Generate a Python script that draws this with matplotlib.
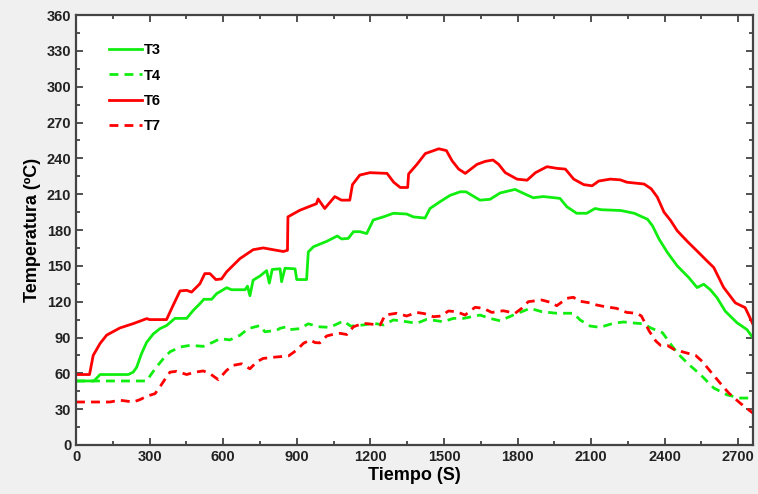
"""
Temperature profiles T3, T4, T6, T7 vs time.
Writes out.png
"""

import matplotlib
matplotlib.use("Agg")
import matplotlib.pyplot as plt
from matplotlib.ticker import MultipleLocator

# ----------------------------------------------------------------
# Data
# ----------------------------------------------------------------
t3_time = [0, 73, 98, 213, 233, 247, 267, 288, 315, 342, 369, 403, 451, 478, 505, 521,
           553, 573, 614, 634, 689, 699, 709, 722, 750, 777, 788, 800, 832, 838, 852,
           893, 900, 940, 947, 968, 1022, 1065, 1083, 1110, 1131, 1158, 1185, 1212,
           1253, 1294, 1348, 1375, 1423, 1443, 1484, 1525, 1566, 1590, 1647, 1688,
           1729, 1790, 1824, 1864, 1905, 1973, 2001, 2041, 2082, 2116, 2141, 2222,
           2276, 2330, 2350, 2377, 2411, 2451, 2499, 2532, 2559, 2586, 2613, 2647,
           2695, 2735, 2760]
t3_temp = [53.6, 53.6, 59, 59, 61, 65, 76.5, 86, 93, 97.4, 100, 106, 106, 112.7, 118.3,
           122, 122, 126.7, 131.7, 130, 130, 133, 125, 138, 141.5, 146, 135.5, 147,
           147.5, 136.7, 148, 147.5, 138.5, 138.5, 161.7, 166, 170.5, 175, 172.5, 173,
           178.6, 178.6, 177, 188.4, 191, 194, 193.4, 191, 190, 198, 203.7, 209, 212,
           212, 205, 205.7, 211, 214, 210.7, 207, 208, 206.5, 199.5, 194, 194, 198,
           197, 196.3, 194, 189, 183.6, 172.4, 161.2, 150, 140, 131.8, 134.6, 130,
           123.4, 112, 102.3, 96.7, 89.7]

t4_time = [0, 288, 308, 328, 356, 383, 424, 464, 519, 560, 587, 627, 668, 702, 750, 770,
           817, 832, 858, 872, 912, 947, 988, 1035, 1090, 1120, 1171, 1212, 1253, 1294,
           1348, 1389, 1430, 1498, 1538, 1579, 1647, 1688, 1729, 1783, 1851, 1899,
           1960, 2028, 2055, 2096, 2136, 2191, 2232, 2286, 2313, 2343, 2391, 2411,
           2451, 2499, 2546, 2600, 2654, 2708, 2760]
t4_temp = [53.6, 53.6, 59.7, 65.3, 72.3, 78, 82, 83.4, 82.6, 86.2, 89, 88, 91.8, 97.4,
           100, 94.8, 96, 97.7, 99, 96.6, 97.4, 101.5, 99, 98.5, 103.8, 99.5, 100.5,
           101.9, 100.5, 104.7, 103.2, 101.9, 105.2, 103.2, 106, 106, 108.8, 106, 104,
           108.8, 114.4, 111.6, 110.3, 110.3, 104.7, 99.6, 98.5, 101.9, 103, 101.9,
           101.5, 98, 94, 88.3, 77, 67.3, 58.9, 47.7, 42, 39.3, 39.3]

t6_time = [0, 55, 70, 98, 125, 179, 233, 288, 300, 369, 396, 424, 451, 471, 505, 525,
           546, 570, 593, 614, 668, 722, 763, 804, 845, 862, 864, 912, 980, 987, 1014,
           1055, 1082, 1116, 1127, 1157, 1198, 1268, 1295, 1322, 1352, 1356, 1390,
           1424, 1479, 1510, 1533, 1560, 1587, 1635, 1669, 1700, 1723, 1750, 1798,
           1839, 1873, 1920, 1961, 1995, 2029, 2070, 2104, 2131, 2178, 2219, 2246,
           2316, 2345, 2370, 2397, 2424, 2451, 2492, 2539, 2573, 2600, 2640, 2688,
           2728, 2742, 2760]
t6_temp = [59, 59, 75, 85, 92, 98, 101.6, 105.8, 105, 105, 117, 129, 129.5, 128, 135,
           143.5, 143.5, 138.5, 139, 145, 156, 163.5, 165, 163.5, 162, 163, 191, 196.5,
           202, 206, 198, 208, 205, 205, 218, 226, 228, 227.4, 220, 215.6, 215.6, 227,
           235, 244, 248, 246.5, 238, 231, 227.4, 235, 237.5, 238.6, 235, 228, 222.6,
           221.7, 228, 233, 231.6, 231, 222.6, 218, 217, 221, 222.6, 222, 220, 218.5,
           214.5, 207.5, 195, 188, 179.4, 170.5, 161, 154, 148.6, 132, 119, 115, 109,
           101]

t7_time = [0, 138, 179, 233, 261, 288, 322, 342, 369, 383, 410, 451, 485, 519, 546, 580,
           614, 641, 675, 709, 736, 763, 817, 866, 900, 927, 954, 975, 994, 1022, 1062,
           1076, 1104, 1131, 1171, 1212, 1240, 1260, 1307, 1348, 1389, 1420, 1457,
           1490, 1518, 1552, 1586, 1627, 1661, 1695, 1742, 1790, 1817, 1844, 1899,
           1933, 1960, 2001, 2028, 2048, 2089, 2123, 2157, 2204, 2245, 2286, 2305,
           2337, 2364, 2384, 2411, 2438, 2478, 2526, 2553, 2586, 2620, 2661, 2708, 2760]
t7_temp = [36, 36, 37.5, 36, 38, 40.8, 43, 48.6, 57, 61, 61.7, 59, 61, 62, 59.7, 54.7,
           62.5, 66.7, 68, 63.8, 69.5, 72.5, 73.7, 74.5, 79.5, 85.1, 87.9, 85.7, 85.5,
           91.3, 93.3, 93.5, 92.5, 99, 101.9, 101, 100.5, 108.8, 110.3, 108, 111, 110,
           107.4, 108, 112.2, 111.6, 108.8, 115.3, 114.4, 111, 112.4, 110.3, 114.4, 120,
           121.4, 119.5, 116.6, 122.8, 123.7, 120.6, 119.2, 117.2, 115.8, 114.4, 111,
           110.3, 108, 95.3, 87, 83.3, 83.3, 80, 77.7, 75, 70, 61.7, 53.3, 43.5, 35,
           26.6]

GREEN = "#10ee10"
RED = "#ff0000"
DASH = (0, (3.2, 2.2))
LW = 2.0


def main():
    plt.rcParams["font.family"] = ["Liberation Sans", "DejaVu Sans"]
    plt.rcParams["font.weight"] = "bold"

    fig = plt.figure(figsize=(7.58, 4.94), dpi=100, facecolor="#f0f0f0")
    ax = fig.add_axes([0.1003, 0.0992, 0.8931, 0.8704])

    ax.plot(t3_time, t3_temp, color=GREEN, lw=LW, label="T3")
    ax.plot(t4_time, t4_temp, color=GREEN, lw=LW, ls=DASH, label="T4")
    ax.plot(t6_time, t6_temp, color=RED, lw=LW, label="T6")
    ax.plot(t7_time, t7_temp, color=RED, lw=LW, ls=DASH, label="T7")

    ax.set_xlim(0, 2760)
    ax.set_ylim(0, 360)
    ax.xaxis.set_major_locator(MultipleLocator(300))
    ax.xaxis.set_minor_locator(MultipleLocator(150))
    ax.yaxis.set_major_locator(MultipleLocator(30))
    ax.yaxis.set_minor_locator(MultipleLocator(15))

    ax.tick_params(which="both", direction="in", top=True, right=True,
                   colors="#333333", labelcolor="#222222", labelsize=10.5, width=1.2)
    ax.tick_params(which="major", length=5)
    ax.tick_params(which="minor", length=3)
    for sp in ax.spines.values():
        sp.set_color("#444444")
        sp.set_linewidth(1.6)

    ax.set_xlabel("Tiempo (S)", fontsize=13, fontweight="bold", labelpad=2)
    ax.set_ylabel("Temperatura (ºC)", fontsize=13, fontweight="bold", labelpad=4)

    leg = ax.legend(loc="upper left", frameon=False, fontsize=10.5,
                    handlelength=2.3, handletextpad=0.1, labelspacing=0.78,
                    borderaxespad=0.0, bbox_to_anchor=(0.04, 0.948))
    for txt in leg.get_texts():
        txt.set_fontweight("bold")

    fig.savefig("out.png", dpi=100, facecolor=fig.get_facecolor())
    plt.close(fig)
    print("Saved: out.png")


if __name__ == "__main__":
    main()
